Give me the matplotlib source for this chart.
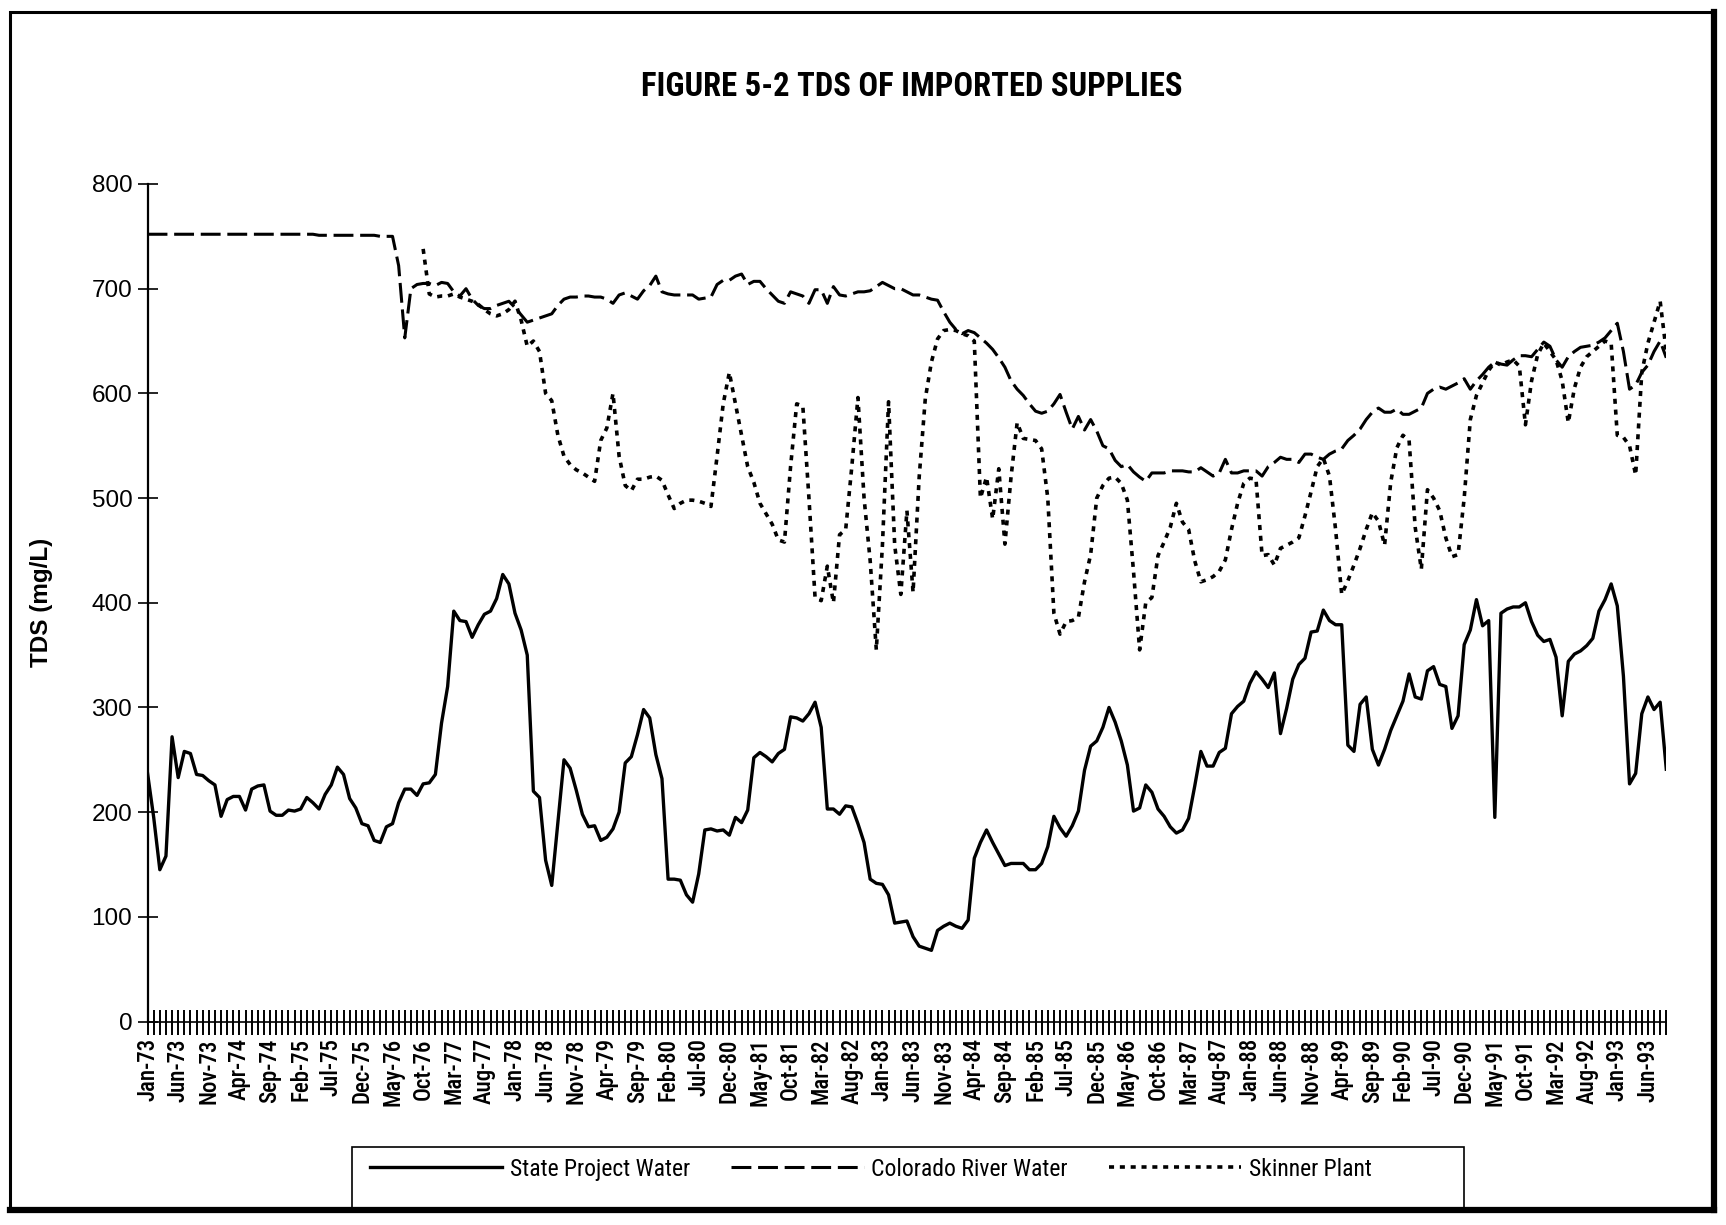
import matplotlib
matplotlib.use('Agg')
import matplotlib.pyplot as plt
import matplotlib.patches as patches
from matplotlib.lines import Line2D
import numpy as np

# monthly TDS (mg/L), Jan-73 .. Sep-93
month_labels = ['Jan-73', 'Jun-73', 'Nov-73', 'Apr-74', 'Sep-74', 'Feb-75', 'Jul-75', 'Dec-75',
                'May-76', 'Oct-76', 'Mar-77', 'Aug-77', 'Jan-78', 'Jun-78', 'Nov-78', 'Apr-79',
                'Sep-79', 'Feb-80', 'Jul-80', 'Dec-80', 'May-81', 'Oct-81', 'Mar-82', 'Aug-82',
                'Jan-83', 'Jun-83', 'Nov-83', 'Apr-84', 'Sep-84', 'Feb-85', 'Jul-85', 'Dec-85',
                'May-86', 'Oct-86', 'Mar-87', 'Aug-87', 'Jan-88', 'Jun-88', 'Nov-88', 'Apr-89',
                'Sep-89', 'Feb-90', 'Jul-90', 'Dec-90', 'May-91', 'Oct-91', 'Mar-92', 'Aug-92',
                'Jan-93', 'Jun-93']
label_step = 5

state_project = [
    237, 195, 145, 158, 272, 233, 258, 256, 236, 235,
    230, 226, 196, 212, 215, 215, 202, 222, 225, 226,
    201, 197, 197, 202, 201, 203, 214, 209, 203, 217,
    226, 243, 236, 213, 204, 189, 187, 173, 171, 186,
    189, 209, 222, 222, 216, 227, 228, 236, 285, 320,
    392, 383, 382, 367, 379, 389, 392, 404, 427, 418,
    390, 374, 350, 220, 214, 154, 130, 190, 250, 242,
    221, 198, 186, 187, 173, 176, 184, 200, 247, 253,
    274, 298, 290, 255, 232, 136, 136, 135, 121, 114,
    141, 183, 184, 182, 183, 178, 195, 190, 202, 252,
    257, 253, 248, 256, 260, 291, 290, 287, 294, 305,
    281, 203, 203, 198, 206, 205, 189, 171, 136, 132,
    131, 121, 94, 95, 96, 81, 72, 70, 68, 87,
    91, 94, 91, 89, 97, 156, 171, 183, 171, 160,
    149, 151, 151, 151, 145, 145, 151, 167, 196, 185,
    177, 187, 201, 240, 263, 268, 281, 300, 286, 268,
    245, 201, 204, 226, 219, 203, 196, 186, 180, 183,
    194, 225, 258, 244, 244, 257, 261, 294, 301, 306,
    323, 334, 327, 319, 333, 275, 299, 327, 341, 347,
    372, 373, 393, 383, 379, 379, 264, 258, 303, 310,
    260, 245, 260, 278, 292, 306, 332, 310, 308, 335,
    339, 322, 320, 280, 292, 360, 374, 403, 378, 383,
    195, 390, 394, 396, 396, 400, 382, 369, 363, 365,
    348, 292, 344, 351, 354, 359, 366, 392, 403, 418,
    397, 330, 227, 237, 294, 310, 298, 305, 241,
]

colorado_river = [
    752, 752, 752, 752, 752, 752, 752, 752, 752, 752,
    752, 752, 752, 752, 752, 752, 752, 752, 752, 752,
    752, 752, 752, 752, 752, 752, 752, 752, 751, 751,
    751, 751, 751, 751, 751, 751, 751, 751, 750, 750,
    750, 722, 653, 700, 704, 705, 705, 703, 706, 705,
    697, 693, 700, 690, 684, 681, 681, 684, 686, 688,
    682, 675, 668, 670, 672, 674, 676, 684, 690, 692,
    692, 693, 693, 692, 692, 690, 686, 694, 696, 693,
    690, 698, 703, 712, 697, 695, 694, 694, 694, 694,
    690, 691, 692, 704, 708, 708, 712, 714, 704, 707,
    707, 700, 694, 688, 686, 697, 695, 693, 686, 699,
    699, 686, 702, 694, 693, 695, 697, 697, 698, 702,
    706, 703, 700, 700, 697, 694, 694, 692, 690, 689,
    678, 668, 661, 657, 660, 658, 653, 648, 642, 634,
    625, 612, 604, 598, 590, 583, 581, 583, 590, 599,
    582, 566, 578, 565, 575, 564, 550, 547, 536, 530,
    532, 525, 520, 516, 524, 524, 524, 526, 526, 526,
    525, 525, 529, 525, 521, 524, 537, 524, 524, 526,
    526, 526, 521, 530, 534, 539, 537, 537, 534, 542,
    542, 539, 537, 542, 545, 547, 555, 560, 566, 575,
    582, 586, 582, 582, 585, 580, 580, 583, 586, 600,
    604, 606, 604, 607, 610, 614, 604, 612, 618, 625,
    630, 628, 627, 632, 636, 636, 635, 642, 649, 645,
    632, 625, 635, 640, 644, 645, 646, 649, 653, 660,
    667, 640, 604, 608, 620, 627, 640, 650, 634,
]

# Skinner Plant record begins Oct-76
skinner_start = 45
skinner_plant = [
    738, 695, 692, 693, 693,
    695, 692, 690, 688, 685, 680, 676, 674, 676, 680,
    688, 670, 645, 650, 640, 600, 593, 560, 540, 532,
    527, 524, 520, 516, 555, 567, 600, 540, 512, 507,
    518, 518, 520, 521, 517, 503, 490, 495, 498, 498,
    497, 495, 492, 540, 590, 620, 590, 560, 530, 515,
    495, 485, 475, 460, 458, 530, 590, 588, 500, 405,
    402, 435, 400, 465, 470, 530, 596, 500, 440, 355,
    455, 592, 455, 408, 488, 410, 520, 595, 630, 652,
    660, 661, 660, 657, 655, 650, 500, 520, 480, 528,
    456, 520, 572, 557, 556, 555, 547, 500, 390, 370,
    382, 383, 386, 420, 446, 500, 512, 519, 520, 514,
    498, 430, 355, 400, 405, 445, 458, 472, 495, 477,
    470, 440, 420, 422, 425, 430, 441, 470, 495, 514,
    519, 518, 445, 446, 436, 452, 455, 458, 462, 483,
    506, 530, 538, 521, 470, 408, 421, 436, 452, 470,
    486, 478, 455, 515, 548, 560, 555, 472, 432, 508,
    500, 488, 462, 444, 446, 500, 575, 598, 610, 622,
    630, 627, 630, 632, 626, 570, 612, 637, 648, 640,
    632, 612, 572, 605, 625, 635, 640, 645, 650, 648,
    560, 558, 550, 522, 620, 648, 668, 688, 640,
]

narrow = ['Liberation Sans Narrow', 'Roboto Condensed', 'DejaVu Sans']
plt.rcParams['font.family'] = ['Liberation Sans', 'DejaVu Sans']

months = np.arange(len(state_project))
skinner_months = np.arange(skinner_start, skinner_start + len(skinner_plant))

fig = plt.figure(figsize=(17.26, 12.25), dpi=100)
ax = fig.add_axes([0.0855, 0.1661, 0.8799, 0.6837])

l1, = ax.plot(months, state_project, color='black', lw=2.4, solid_joinstyle='round')
l2, = ax.plot(months, colorado_river, color='black', lw=2.2, linestyle=(0, (6.5, 2.2)))
l3, = ax.plot(skinner_months, skinner_plant, color='black', lw=2.6, linestyle=(0, (1.4, 1.6)))

ax.set_xlim(0, len(state_project) - 1)
ax.set_ylim(0, 800)
ax.set_yticks(np.arange(0, 801, 100))
ax.tick_params(axis='y', direction='inout', length=14, width=1.2, labelsize=17.5, pad=4)

ax.set_xticks(months)
xlabels = ['' for _ in months]
for k, lab in enumerate(month_labels):
    xlabels[k * label_step] = lab
ax.set_xticklabels(xlabels, rotation=90, family=narrow, fontstretch='condensed',
                   fontsize=16.5, fontweight='medium')
ax.tick_params(axis='x', direction='inout', length=18, width=1.4, pad=3)

for side in ['top', 'right']:
    ax.spines[side].set_visible(False)
ax.spines['left'].set_linewidth(1.6)
ax.spines['bottom'].set_linewidth(1.2)

fig.text(0.528, 0.929, 'FIGURE 5-2 TDS OF IMPORTED SUPPLIES', ha='center', va='center',
         fontsize=23.5, fontweight='bold', family=narrow, fontstretch='condensed')
fig.text(0.0243, 0.5086, 'TDS (mg/L)', ha='center', va='center', rotation=90,
         fontsize=17.5, fontweight='bold')

# outer frame, heavier on the right and bottom edges
fig.patches.append(patches.Rectangle((0.0058, 0.0122), 0.9873, 0.978, transform=fig.transFigure,
                                     fill=False, edgecolor='black', linewidth=2.2))
fig.lines.append(Line2D([0.9931, 0.9931], [0.0122, 0.9902], transform=fig.transFigure,
                        color='black', linewidth=4.5))
fig.lines.append(Line2D([0.0058, 0.9931], [0.0122, 0.0122], transform=fig.transFigure,
                        color='black', linewidth=4.5))
# legend box
fig.patches.append(patches.Rectangle((0.2039, 0.0114), 0.6443, 0.0522, transform=fig.transFigure,
                                     fill=False, edgecolor='black', linewidth=1.2))

fig.legend([l1, l2, l3], ['State Project Water', 'Colorado River Water', 'Skinner Plant'],
           loc='center', bbox_to_anchor=(0.5046, 0.0457), ncol=3, frameon=False,
           handlelength=5.6, handletextpad=0.33, columnspacing=1.75,
           prop={'family': narrow, 'stretch': 'condensed', 'size': 17})

fig.savefig('out.png', dpi=100)
